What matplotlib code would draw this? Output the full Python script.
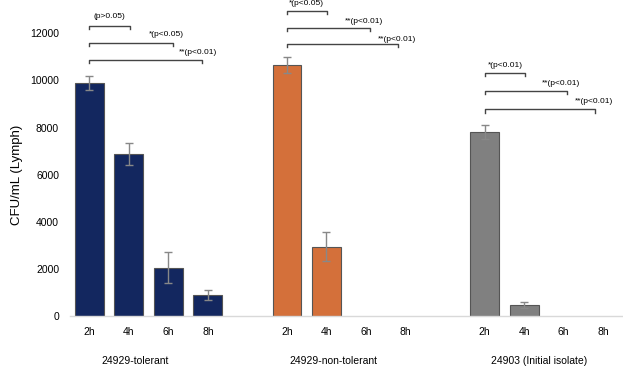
import matplotlib
matplotlib.use("Agg")
import matplotlib.pyplot as plt
from matplotlib.transforms import blended_transform_factory

plt.rcParams['font.family'] = ['Liberation Sans', 'DejaVu Sans']

groups = ["24929-tolerant", "24929-non-tolerant", "24903 (Initial isolate)"]
times = ["2h", "4h", "6h", "8h"]
tolerant = [9900, 6870, 2050, 900]
tolerant_err = [300, 460, 660, 220]
nontolerant = [10650, 2950, 0, 0]
nontolerant_err = [330, 630, 0, 0]
initial = [7800, 455, 0, 0]
initial_err = [290, 135, 0, 0]

series = [tolerant, nontolerant, initial]
errors = [tolerant_err, nontolerant_err, initial_err]
colors = ["#13275f", "#d4703a", "#808080"]

# significance annotations: (x_start, x_end, y, label, label_x, label_y)
annotations = [
    (0.0, 1.03, 12310, "(p>0.05)", 0.5, 12711),
    (0.0, 2.13, 11604, "*(p<0.05)", 1.94, 11928),
    (0.0, 2.85, 10864, "**(p<0.01)", 2.76, 11179),
    (5.0, 6.01, 12949, "*(p<0.05)", 5.5, 13277),
    (5.0, 7.10, 12243, "**(p<0.01)", 6.94, 12481),
    (5.0, 7.81, 11532, "**(p<0.01)", 7.78, 11745),
    (10.0, 11.01, 10298, "*(p<0.01)", 10.52, 10638),
    (10.0, 12.09, 9545, "**(p<0.01)", 11.92, 9860),
    (10.0, 12.80, 8766, "**(p<0.01)", 12.76, 9094),
]
group_label_x = [1.16, 6.17, 11.38]

fig = plt.figure(figsize=(6.23, 3.68), dpi=100)
ax = fig.add_axes([69.5 / 623, 52 / 368, 1 - 69.5 / 623, 282.7 / 368])

positions = []
labels = []
for gi, (vals, errs, col) in enumerate(zip(series, errors, colors)):
    xs = [gi * 5 + i for i in range(len(vals))]
    positions += xs
    labels += times
    lws = [0.8 if v > 0 else 0 for v in vals]
    ax.bar(xs, vals, width=0.73, color=col, edgecolor="#555555", linewidth=lws, zorder=2)
    ex = [x for x, e in zip(xs, errs) if e > 0]
    ev = [v for v, e in zip(vals, errs) if e > 0]
    ee = [e for e in errs if e > 0]
    ax.errorbar(ex, ev, yerr=ee, fmt="none", ecolor="#888888", elinewidth=1.0,
                capsize=3, capthick=1.0, zorder=3)

ax.set_xlim(-0.5, 13.5)
ax.set_ylim(0, 12000)
ax.set_yticks(range(0, 12001, 2000))
ax.set_xticks(positions)
ax.set_xticklabels(labels)
ax.tick_params(axis="both", length=0, labelsize=7.5, colors="black")
ax.tick_params(axis="x", pad=8)
ax.tick_params(axis="y", pad=7.5)
for s in ["top", "right", "left"]:
    ax.spines[s].set_visible(False)
ax.spines["bottom"].set_color("#d9d9d9")
ax.spines["bottom"].set_linewidth(1.0)

ax.set_ylabel("CFU/mL (Lymph)", fontsize=9.5)
ax.yaxis.set_label_coords(-0.084, 0.5)

trans = blended_transform_factory(ax.transData, ax.transAxes)
for gx, g in zip(group_label_x, groups):
    ax.text(gx, -45 / 282.7, g, transform=trans, ha="center", va="center", fontsize=7.5)

tick_h = 130
for x0, x1, y, lab, lx, ly in annotations:
    ax.plot([x0, x0, x1, x1], [y - tick_h, y, y, y - tick_h], color="#444444",
            linewidth=1.0, clip_on=False, zorder=4)
    ax.text(lx, ly, lab, ha="center", va="center", fontsize=6, clip_on=False)

fig.savefig("out.png", dpi=100)
